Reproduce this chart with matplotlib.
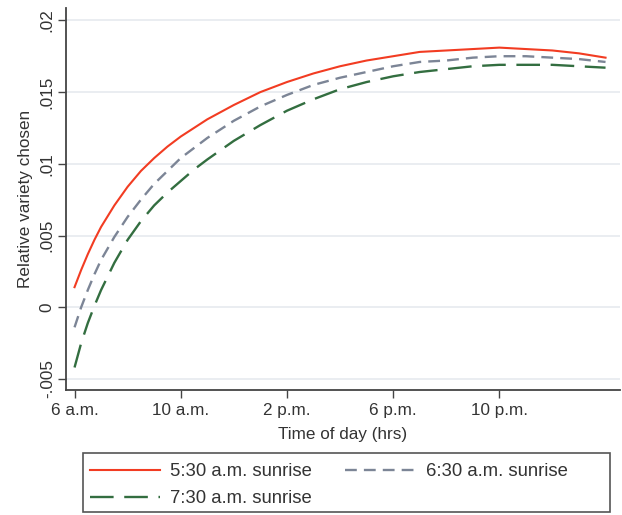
import numpy as np
import matplotlib.pyplot as plt
from matplotlib.patches import Rectangle

plt.rcParams['font.family'] = ['Liberation Sans', 'DejaVu Sans']

# hours since midnight (6 = 6 a.m., 26 = 2 a.m. next day)
hours = [6, 6.25, 6.5, 6.75, 7, 7.5, 8, 8.5, 9, 9.5, 10, 10.5, 11, 12, 13, 14,
         15, 16, 17, 18, 19, 20, 21, 22, 23, 24, 25, 26]
sun_530 = [0.0014, 0.0026, 0.0037, 0.0047, 0.0056, 0.0071, 0.0084, 0.0095, 0.0104,
           0.0112, 0.0119, 0.0125, 0.0131, 0.0141, 0.0150, 0.0157, 0.0163, 0.0168,
           0.0172, 0.0175, 0.0178, 0.0179, 0.0180, 0.0181, 0.0180, 0.0179, 0.0177, 0.0174]
sun_630 = [-0.0014, 0.0000, 0.0012, 0.0023, 0.0033, 0.0049, 0.0063, 0.0075, 0.0086,
           0.0095, 0.0104, 0.0111, 0.0118, 0.0130, 0.0140, 0.0148, 0.0155, 0.0160,
           0.0164, 0.0168, 0.0171, 0.0172, 0.0174, 0.0175, 0.0175, 0.0174, 0.0173, 0.0171]
sun_730 = [-0.0042, -0.0025, -0.0011, 0.0001, 0.0012, 0.0031, 0.0047, 0.0060, 0.0071,
           0.0080, 0.0088, 0.0096, 0.0103, 0.0116, 0.0127, 0.0137, 0.0145, 0.0152,
           0.0157, 0.0161, 0.0164, 0.0166, 0.0168, 0.0169, 0.0169, 0.0169, 0.0168, 0.0167]

xticks = [6, 10, 14, 18, 22]
xlabels = ["6 a.m.", "10 a.m.", "2 p.m.", "6 p.m.", "10 p.m."]
yticks = [-0.005, 0, 0.005, 0.01, 0.015, 0.02]
ylabels = ["-.005", "0", ".005", ".01", ".015", ".02"]

fs = 12.3
tc = "#333333"

fig = plt.figure(figsize=(6.22, 5.15), dpi=100)
ax = fig.add_axes([0.106, 0.2427, 0.891, 0.742])

for y in yticks:
    ax.axhline(y, color="#e6eaef", lw=1.2, zorder=0)

l1, = ax.plot(hours, sun_530, color="#f23c22", lw=1.5)
l2, = ax.plot(hours, sun_630, color="#7c8596", lw=1.7, dashes=(5, 3))
l3, = ax.plot(hours, sun_730, color="#336e40", lw=1.7, dashes=(10, 4.5))

ax.set_xlim(5.676, 26.55)
ax.set_ylim(-0.00577, 0.02087)
ax.set_xticks(xticks)
ax.set_xticklabels(xlabels, fontsize=fs, color=tc)
ax.set_yticks(yticks)
ax.set_yticklabels(ylabels, fontsize=fs, color=tc, rotation=90, va="center")
ax.tick_params(length=6, width=1, color="#444444", pad=3)
ax.tick_params(axis="y", pad=2)
for s in ["top", "right"]:
    ax.spines[s].set_visible(False)
for s in ["left", "bottom"]:
    ax.spines[s].set_color("#444444")
    ax.spines[s].set_linewidth(1.3)

ax.set_xlabel("Time of day (hrs)", fontsize=fs, color=tc, labelpad=7)
ax.set_ylabel("Relative variety chosen", fontsize=fs, color=tc, labelpad=5)

# column-wise fill: l1, l3 in first column, l2 in second
leg = fig.legend([l1, l3, l2], ["5:30 a.m. sunrise", "7:30 a.m. sunrise", "6:30 a.m. sunrise"],
                 ncol=2, loc="upper left", bbox_to_anchor=(90 / 622, 1 - 463 / 515),
                 fontsize=13.3, frameon=False, handlelength=3.8, handletextpad=0.55,
                 columnspacing=1.8, borderpad=0, labelspacing=0.55, borderaxespad=0)
for t in leg.get_texts():
    t.set_color(tc)

fig.patches.append(Rectangle((83 / 622, 3 / 515), 527 / 622, 59 / 515,
                             transform=fig.transFigure, fill=False,
                             edgecolor="#555555", lw=1.2))

plt.savefig("out.png", dpi=100)
